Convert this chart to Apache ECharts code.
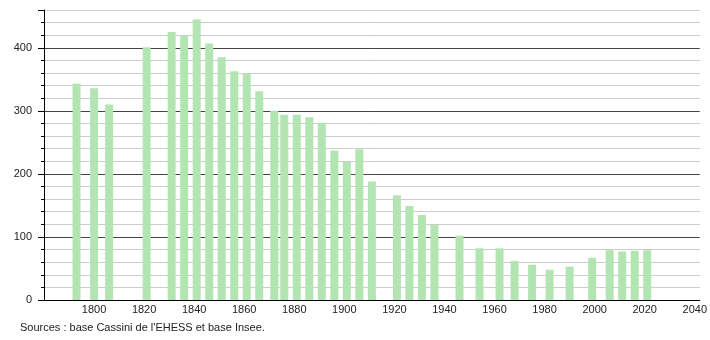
<!DOCTYPE html>
<html>
<head>
<meta charset="utf-8">
<script src="https://cdn.jsdelivr.net/npm/echarts@6/dist/echarts.min.js"></script>
<style>
  html, body { margin: 0; padding: 0; background: #fff; }
  #chart { width: 710px; height: 340px; }
</style>
</head>
<body>
<div id="chart"></div>
<script>
// années de recensement
var years = [1793, 1800, 1806, 1821, 1831, 1836, 1841, 1846, 1851, 1856,
             1861, 1866, 1872, 1876, 1881, 1886, 1891, 1896, 1901, 1906,
             1911, 1921, 1926, 1931, 1936, 1946, 1954, 1962, 1968, 1975,
             1982, 1990, 1999, 2006, 2011, 2016, 2021];
// population
var population = [343, 336, 310, 401, 425, 420, 445, 407, 385, 363,
                  359, 331, 300, 294, 294, 290, 281, 237, 219, 239,
                  188, 166, 149, 135, 119, 102, 82, 82, 62, 56,
                  48, 53, 67, 79, 77, 78, 79];
var xTickLabels = [1800, 1820, 1840, 1860, 1880, 1900, 1920, 1940, 1960, 1980, 2000, 2020, 2040];
var yTickLabels = [0, 100, 200, 300, 400];
var sourceText = "Sources : base Cassini de l'EHESS et base Insee.";

var chart = echarts.init(document.getElementById('chart'));
var points = [];
for (var i = 0; i < years.length; i++) {
    points.push([years[i], population[i]]);
}

var font = 'Liberation Sans, Arial, sans-serif';
var option = {
    animation: false,
    textStyle: { fontFamily: font },
    grid: { left: 44, right: 10, top: 10, bottom: 40 },
    graphic: [{
        type: 'text',
        left: 20,
        top: 322,
        style: { text: sourceText, fill: '#222', fontSize: 11, fontFamily: font }
    }],
    xAxis: {
        type: 'value',
        min: 1780,
        max: 2042,
        splitLine: { show: false },
        axisLine: { show: true, lineStyle: { color: '#000', width: 1 } },
        axisTick: { show: false },
        axisLabel: {
            customValues: xTickLabels,
            formatter: function (v) { return String(v); },
            color: '#222',
            fontSize: 11,
            margin: 4
        }
    },
    yAxis: [{
        // grille fine tous les 20, traits foncés tous les 100
        type: 'value',
        min: 0,
        max: 460,
        interval: 20,
        axisLine: { show: true, lineStyle: { color: '#000', width: 1 } },
        axisTick: { show: true, length: 3, lineStyle: { color: '#000' } },
        splitLine: { show: true, lineStyle: { color: ['#444', '#ccc', '#ccc', '#ccc', '#ccc'], width: 1 } },
        axisLabel: {
            customValues: yTickLabels,
            formatter: function (v) { return String(v); },
            color: '#222',
            fontSize: 11,
            margin: 12
        }
    }, {
        // ticks plus longs aux centaines
        type: 'value',
        position: 'left',
        min: 0,
        max: 460,
        interval: 100,
        axisLine: { show: false },
        axisTick: { show: true, length: 6, lineStyle: { color: '#000' } },
        splitLine: { show: false },
        axisLabel: { show: false }
    }],
    series: [{
        type: 'bar',
        data: points,
        barWidth: 8,
        itemStyle: { color: '#b3e5b3' }
    }]
};
chart.setOption(option);
</script>
</body>
</html>
